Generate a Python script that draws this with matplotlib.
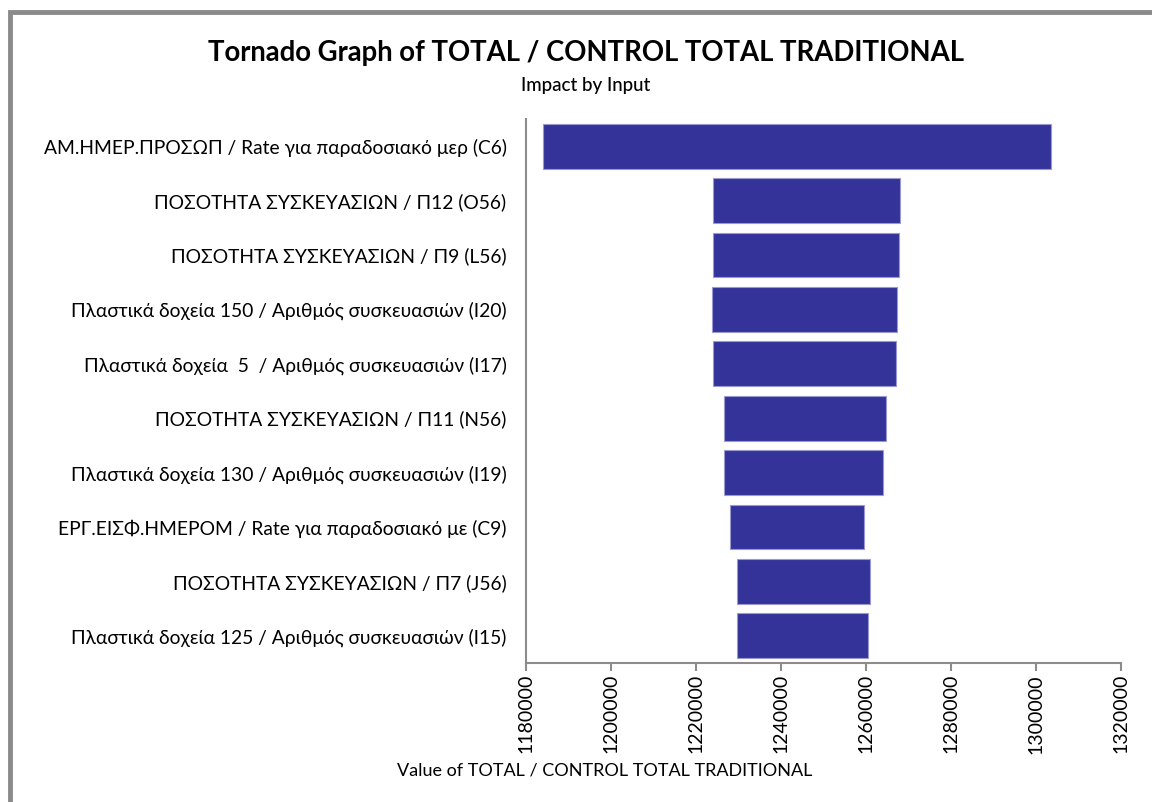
import matplotlib
matplotlib.use("Agg")
import matplotlib.pyplot as plt
from matplotlib.patches import Rectangle
from matplotlib.ticker import MultipleLocator

plt.rcParams['font.family'] = ['Lato', 'Open Sans', 'DejaVu Sans']

inputs = [
    "ΑΜ.ΗΜΕΡ.ΠΡΟΣΩΠ / Rate για παραδοσιακό μερ (C6)",
    "ΠΟΣΟΤΗΤΑ ΣΥΣΚΕΥΑΣΙΩΝ / Π12 (O56)",
    "ΠΟΣΟΤΗΤΑ ΣΥΣΚΕΥΑΣΙΩΝ / Π9 (L56)",
    "Πλαστικά δοχεία 150 / Αριθμός συσκευασιών (I20)",
    "Πλαστικά δοχεία  5  / Αριθμός συσκευασιών (I17)",
    "ΠΟΣΟΤΗΤΑ ΣΥΣΚΕΥΑΣΙΩΝ / Π11 (N56)",
    "Πλαστικά δοχεία 130 / Αριθμός συσκευασιών (I19)",
    "ΕΡΓ.ΕΙΣΦ.ΗΜΕΡΟΜ / Rate για παραδοσιακό με (C9)",
    "ΠΟΣΟΤΗΤΑ ΣΥΣΚΕΥΑΣΙΩΝ / Π7 (J56)",
    "Πλαστικά δοχεία 125 / Αριθμός συσκευασιών (I15)",
]
low_values = [1184100, 1224050, 1224050, 1223750, 1224050,
              1226500, 1226500, 1228000, 1229700, 1229700]
high_values = [1303500, 1268100, 1267800, 1267400, 1267100,
               1264660, 1264100, 1259600, 1261000, 1260500]
x_min, x_max, x_step = 1180000, 1320000, 20000

fig = plt.figure(figsize=(11.52, 8.02), dpi=100)
ax = fig.add_axes([526 / 1152, 139 / 802, (1121 - 526) / 1152, 544 / 802])

positions = list(range(len(inputs)))
widths = [h - l for l, h in zip(low_values, high_values)]
ax.barh(positions, widths, left=low_values, height=0.82,
        color="#333399", edgecolor="#9a9ad0", linewidth=0.8)

ax.set_ylim(len(inputs) - 0.5, -0.5)
ax.set_xlim(x_min, x_max)
ax.xaxis.set_major_locator(MultipleLocator(x_step))
ax.set_yticks(positions)
ax.set_yticklabels(inputs, fontsize=13.9)
ax.tick_params(axis="y", length=0, pad=14)
ax.tick_params(axis="x", length=6, width=1.5, color="#8c8c8c", pad=2,
               labelsize=14, labelrotation=90)
ax.ticklabel_format(axis="x", style="plain", useOffset=False)
for lbl in ax.get_xticklabels():
    lbl.set_verticalalignment("top")

for side in ("top", "right"):
    ax.spines[side].set_visible(False)
for side in ("left", "bottom"):
    ax.spines[side].set_color("#8c8c8c")
    ax.spines[side].set_linewidth(1.5)

fig.text(586 / 1152, 1 - 53 / 802, "Tornado Graph of TOTAL / CONTROL TOTAL TRADITIONAL",
         ha="center", va="center", fontsize=19.8, fontweight="bold")
fig.text(586 / 1152, 1 - 85 / 802, "Impact by Input",
         ha="center", va="center", fontsize=13.5, fontweight="medium")
fig.text(605 / 1152, 1 - 770 / 802, "Value of TOTAL / CONTROL TOTAL TRADITIONAL",
         ha="center", va="center", fontsize=13)

# chart-area frame
frame = Rectangle((10 / 1152, -0.05), 1.2, 1 - 12 / 802 + 0.05, transform=fig.transFigure,
                  fill=False, edgecolor="#8a8a8a", linewidth=3.5)
fig.add_artist(frame)

fig.savefig("out.png", dpi=100)
